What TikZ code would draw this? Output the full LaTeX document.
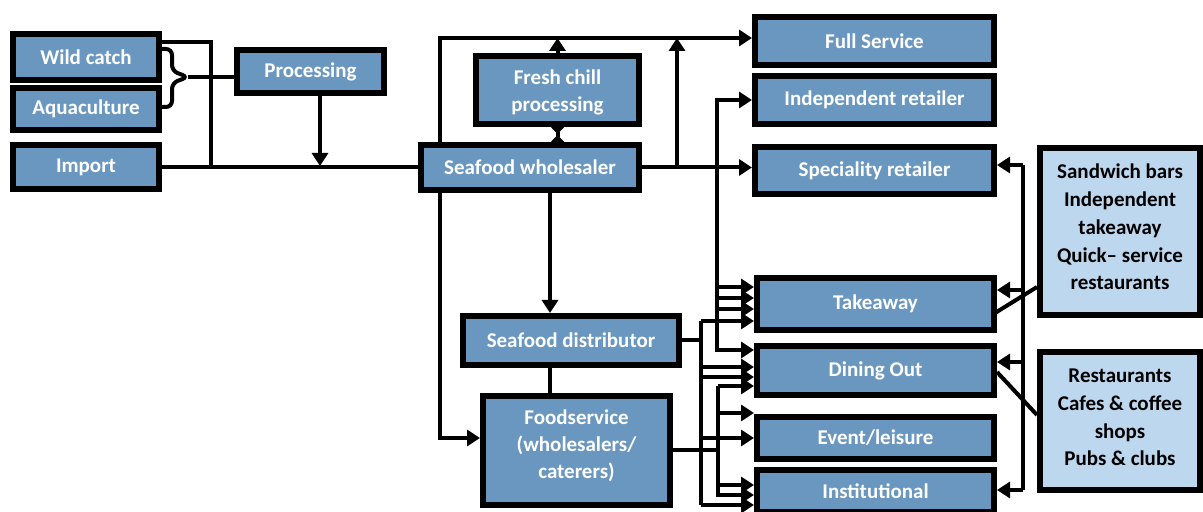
\documentclass[tikz,border=0pt]{standalone}
\usepackage{fontspec}
\setmainfont{Carlito}
\usetikzlibrary{arrows.meta}
\definecolor{boxblue}{RGB}{106,151,192}
\definecolor{lightblue}{RGB}{189,215,238}
\tikzset{
  boxfont/.style={font=\bfseries\fontsize{10.5}{13.5}\selectfont, align=center, inner sep=0pt},
  box/.style={draw=black, line width=3pt, fill=boxblue, text=white, boxfont},
  lbox/.style={box, fill=lightblue, text=black},
  wtext/.style={boxfont, text=white},
  btext/.style={boxfont, text=black, font=\bfseries\fontsize{10.5}{13.9}\selectfont},
  conn/.style={line width=2pt},
  arr/.style={conn, -{Triangle[length=6.5pt,width=8pt]}},
  dblarr/.style={conn, {Triangle[length=6.5pt,width=8pt]}-{Triangle[length=6.5pt,width=8pt]}},
}
\begin{document}
\begin{tikzpicture}[x=0.5pt,y=-0.5pt]
\useasboundingbox (0,0) rectangle (1203,512);
% nodes
\node[box, minimum width=73pt, minimum height=23pt] (wild) at (86,57) {Wild catch};
\node[box, minimum width=73pt, minimum height=21pt] (aqua) at (86,109) {Aquaculture};
\node[box, minimum width=73pt, minimum height=22pt] (import) at (86,167) {Import};
\node[box, minimum width=73.5pt, minimum height=21.5pt] (proc) at (310.5,71.5) {Processing};
\node[box, minimum width=109pt, minimum height=22.5pt] (whole) at (530,167.5) {Seafood wholesaler};
\node[box, minimum width=81.5pt, minimum height=34pt] (fresh) at (557.5,90) {};
\node[wtext] (freshtxt) at (557.5,92) {Fresh chill\\processing};
\node[box, minimum width=119.5pt, minimum height=24pt] (full) at (874.5,41) {Full Service};
\node[box, minimum width=119.5pt, minimum height=24pt] (indep) at (874.5,100) {Independent retailer};
\node[box, minimum width=119.5pt, minimum height=23.5pt] (spec) at (874.5,170.5) {Speciality retailer};
\node[box, minimum width=118.5pt, minimum height=26pt] (take) at (875.5,304) {Takeaway};
\node[box, minimum width=118.5pt, minimum height=24.5pt] (dine) at (875.5,370.5) {Dining Out};
\node[box, minimum width=118.5pt, minimum height=21pt] (event) at (875.5,438) {Event/leisure};
\node[box, minimum width=118.5pt, minimum height=21pt] (inst) at (875.5,491) {Institutional};
\node[box, minimum width=108pt, minimum height=24.5pt] (dist) at (571,340.5) {Seafood distributor};
\node[box, minimum width=93.5pt, minimum height=54.5pt] (food) at (576.5,450.5) {};
\node[wtext] (foodtxt) at (576.5,446) {Foodservice\\(wholesalers/\\caterers)};
\node[lbox, minimum width=80pt, minimum height=83.5pt] (sand) at (1120,231.5) {};
\node[btext] (sandtxt) at (1120,227) {Sandwich bars\\Independent\\takeaway\\Quick– service\\restaurants};
\node[lbox, minimum width=80pt, minimum height=68.5pt] (rest) at (1120,421) {};
\node[btext] (resttxt) at (1120,417.5) {Restaurants\\Cafes \& coffee\\shops\\Pubs \& clubs};
% coordinates
\coordinate (wj) at (211,42);
\coordinate (btip) at (188,77);
\coordinate (pB) at (320,166);
\coordinate (tl) at (440,38);
\coordinate (va) at (677,167.5);
\coordinate (irB) at (717,350);
\coordinate (t1) at (717,287);
\coordinate (t2) at (717,298);
\coordinate (t3) at (717,309);
\coordinate (dv1) at (701,321);
\coordinate (dv2) at (701,505);
\coordinate (dd1) at (701,367);
\coordinate (dd2) at (701,377);
\coordinate (de1) at (701,438);
\coordinate (fv1) at (718,386);
\coordinate (fv2) at (718,485);
\coordinate (fe1) at (718,413);
\coordinate (fi2) at (718,495);
\coordinate (wl) at (440,438);
\coordinate (wdx) at (550,250);
\coordinate (rv1) at (1023,165);
\coordinate (rv2) at (1023,490);
\coordinate (rt) at (1023,290);
\coordinate (rd) at (1023,362);
\coordinate (d1) at (1037,287);
\coordinate (d2) at (995,313);
\coordinate (d3) at (997,372);
\coordinate (d4) at (1037,415);
% left part
\draw[conn] (wild.east |- wj) -- (wj) -- (wj |- import.east);
\draw[conn, rounded corners=3pt] (wild.east |- 0,49) -- (172,49) -- (172,71) -- (btip) -- (172,83) -- (172,107) -- (aqua.east |- 0,107);
\draw[conn] (btip) -- (btip -| proc.west);
\draw[arr] (pB |- proc.south) -- (pB);
\draw[conn] (import.east) -- (import.east -| whole.west);
% wholesaler
\draw[arr] (tl |- whole.north) -- (tl) -- (tl -| full.west);
\draw[arr] (fresh.north) -- (fresh.north |- tl);
\draw[conn, {Triangle[length=3.5pt,width=6.5pt,reversed]}-{Triangle[length=3.5pt,width=6.5pt,reversed]}] (fresh.south |- whole.north) -- (fresh.south);
\draw[arr] (whole.east) -- (whole.east -| spec.west);
\draw[arr] (va) -- (va |- tl);
\draw[dblarr] (indep.west) -| (irB) -- (irB -| dine.west);
\draw[arr] (t1) -- (t1 -| take.west);
\draw[arr] (t2) -- (t2 -| take.west);
\draw[arr] (t3) -- (t3 -| take.west);
\draw[arr] (wl |- whole.south) -- (wl) -- (wl -| food.west);
\draw[arr] (wdx |- whole.south) -- (wdx |- dist.north);
\draw[conn] (wdx |- dist.south) -- (wdx |- food.north);
% distributor
\draw[conn] (dist.east) -- (dist.east -| dv1);
\draw[conn] (dv1) -- (dv2);
\draw[arr] (dv1) -- (dv1 -| take.west);
\draw[arr] (dd1) -- (dd1 -| dine.west);
\draw[arr] (dd2) -- (dd2 -| dine.west);
\draw[arr] (de1) -- (de1 -| event.west);
\draw[arr] (dv2) -- (dv2 -| inst.west);
% foodservice
\draw[conn] (food.east) -- (food.east -| fv1);
\draw[conn] (fv1) -- (fv2);
\draw[arr] (fv1) -- (fv1 -| dine.west);
\draw[arr] (fe1) -- (fe1 -| event.west);
\draw[arr] (fv2) -- (fv2 -| inst.west);
\draw[arr] (fv2) -- (fi2) -- (fi2 -| inst.west);
% right side
\draw[arr] (rv1) -- (rv1 -| spec.east);
\draw[conn] (rv1) -- (rv2);
\draw[arr] (rv2) -- (rv2 -| inst.east);
\draw[arr] (rt) -- (rt -| take.east);
\draw[arr] (rd) -- (rd -| dine.east);
\draw[conn] (d1) -- (d2);
\draw[conn] (d3) -- (d4);
\end{tikzpicture}
\end{document}
